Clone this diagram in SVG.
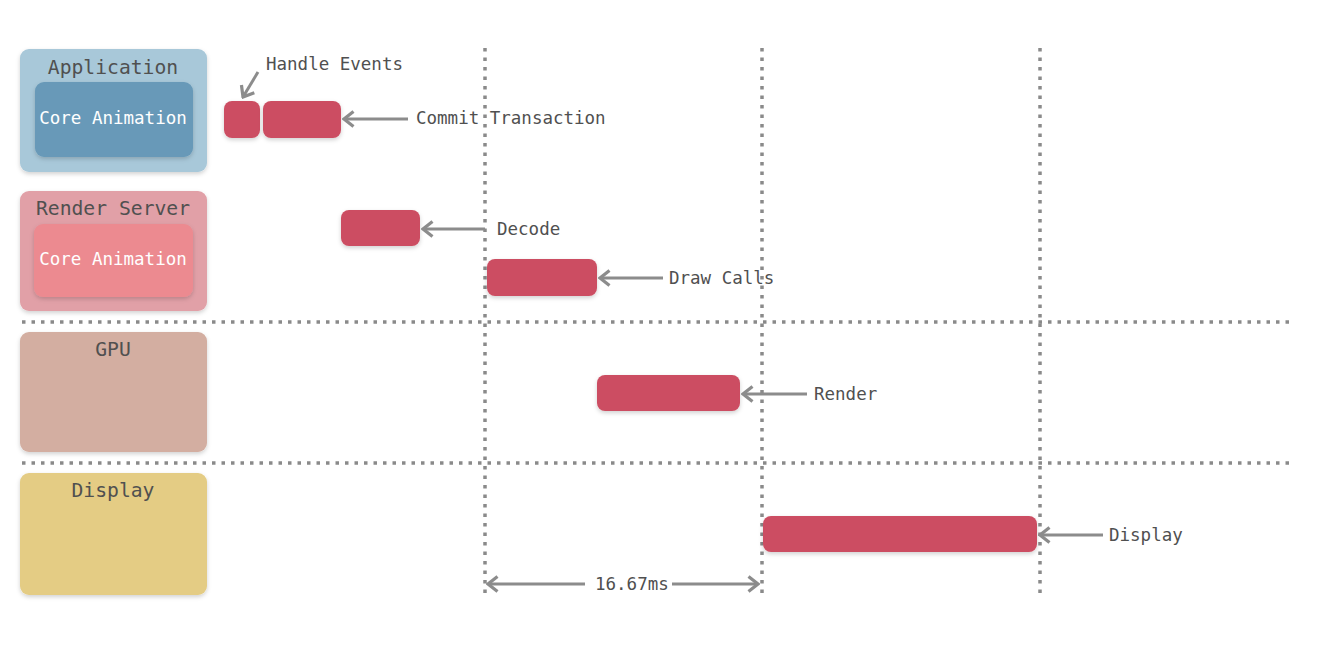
<svg xmlns="http://www.w3.org/2000/svg" width="1342" height="658" viewBox="0 0 1342 658">
<defs>
<filter id="sh" x="-10%" y="-10%" width="120%" height="130%">
<feDropShadow dx="0" dy="2" stdDeviation="2" flood-color="#000" flood-opacity="0.18"/>
</filter>
<marker id="ah" viewBox="0 0 13 18" refX="11" refY="9" markerWidth="13" markerHeight="18" markerUnits="userSpaceOnUse" orient="auto">
<path d="M1.5 1.5 L11 9 L1.5 16.5" fill="none" stroke="#8c8c8c" stroke-width="3.2"/>
</marker>
</defs>
<style>
text{font-family:"DejaVu Sans Mono","Liberation Mono",monospace;font-size:17.5px;fill:#505050}
.t{font-size:19.7px}
.w{fill:#fff}
.c{text-anchor:middle}
.bar{fill:#cc4e62;filter:url(#sh)}
.grid{stroke:#8a8a8a;stroke-width:3.5;stroke-dasharray:3.5 6;fill:none}
.arr{stroke:#8c8c8c;stroke-width:3;fill:none;marker-end:url(#ah)}
</style>
<rect width="1342" height="658" fill="#fff"/>
<g id="grid">
<line class="grid" x1="22" y1="322" x2="1295" y2="322"/>
<line class="grid" x1="22" y1="463" x2="1295" y2="463"/>
<line class="grid" x1="485" y1="48" x2="485" y2="597"/>
<line class="grid" x1="762" y1="48" x2="762" y2="597"/>
<line class="grid" x1="1040" y1="48" x2="1040" y2="597"/>
</g>
<g id="application">
<rect x="20" y="49" width="187" height="123" rx="9" fill="#a8c8d9" filter="url(#sh)"/>
<text class="c t" x="113" y="74">Application</text>
<rect x="35" y="82" width="158" height="75" rx="9" fill="#6799b8" filter="url(#sh)"/>
<text class="c w" x="113" y="124">Core Animation</text>
</g>
<g id="render-server">
<rect x="20" y="191" width="187" height="120" rx="9" fill="#e1a0a7" filter="url(#sh)"/>
<text class="c t" x="113" y="215">Render Server</text>
<rect x="34" y="224" width="159" height="73" rx="9" fill="#ec8a90" filter="url(#sh)"/>
<text class="c w" x="113" y="265">Core Animation</text>
</g>
<g id="gpu">
<rect x="20" y="332" width="187" height="120" rx="9" fill="#d3aea1" filter="url(#sh)"/>
<text class="c t" x="113" y="356">GPU</text>
</g>
<g id="display">
<rect x="20" y="473" width="187" height="122" rx="9" fill="#e4cc84" filter="url(#sh)"/>
<text class="c t" x="113" y="497">Display</text>
</g>
<g id="bars">
<rect id="handle-events-bar" class="bar" x="224" y="101" width="36" height="37" rx="8"/>
<rect id="commit-bar" class="bar" x="263" y="101" width="78" height="37" rx="8"/>
<rect id="decode-bar" class="bar" x="341" y="210" width="79" height="36" rx="8"/>
<rect id="draw-calls-bar" class="bar" x="487" y="259" width="110" height="37" rx="8"/>
<rect id="render-bar" class="bar" x="597" y="375" width="143" height="36" rx="8"/>
<rect id="display-bar" class="bar" x="763" y="516" width="274" height="36" rx="8"/>
</g>
<g id="connectors">
<line class="arr" x1="258" y1="72" x2="243" y2="97"/>
<line class="arr" x1="408" y1="119" x2="344" y2="119"/>
<line class="arr" x1="485" y1="229" x2="423" y2="229"/>
<line class="arr" x1="663" y1="278" x2="600" y2="278"/>
<line class="arr" x1="807" y1="394" x2="743" y2="394"/>
<line class="arr" x1="1103" y1="535" x2="1040" y2="535"/>
<line class="arr" x1="585" y1="584" x2="488" y2="584"/>
<line class="arr" x1="672" y1="584" x2="758" y2="584"/>
</g>
<g id="labels">
<text x="266" y="70">Handle Events</text>
<text x="416" y="124">Commit Transaction</text>
<text x="497" y="235">Decode</text>
<text x="669" y="284">Draw Calls</text>
<text x="814" y="400">Render</text>
<text x="1109" y="541">Display</text>
<text x="595" y="590">16.67ms</text>
</g>
</svg>
